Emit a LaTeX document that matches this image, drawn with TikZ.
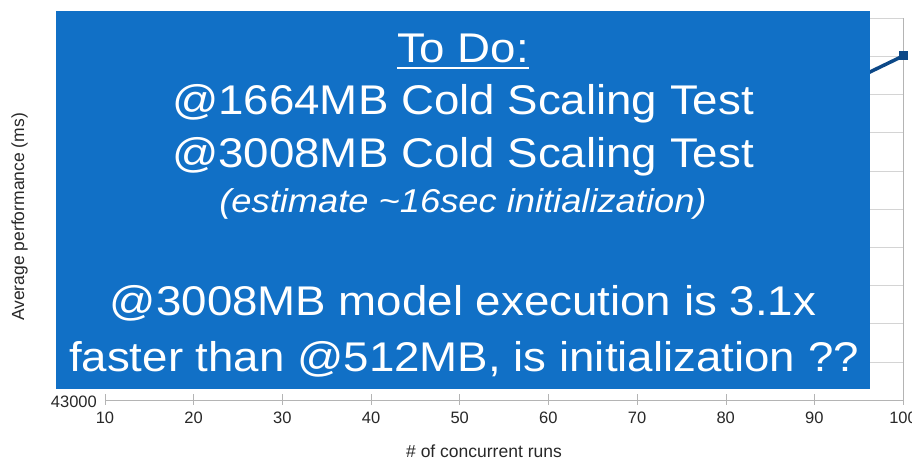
\documentclass[tikz,border=0pt]{standalone}
\usepackage{fontspec}
\setmainfont{Liberation Sans}
\newfontfamily\boxfont[FakeStretch=1.1]{Liberation Sans}
\usetikzlibrary{positioning}
\definecolor{boxblue}{RGB}{17,112,198}
\definecolor{lineblue}{RGB}{12,72,135}
\definecolor{gridgray}{RGB}{212,212,212}
\definecolor{axisgray}{RGB}{180,180,180}
\definecolor{labelgray}{RGB}{40,40,40}

\begin{document}
\begin{tikzpicture}[
    x=1pt, y=-1pt,
    ticklabel/.style={font=\fontsize{16.5}{16.5}\selectfont, text=labelgray,
                      inner sep=0pt, anchor=base},
    axistitle/.style={font=\fontsize{17.5}{17.5}\selectfont, text=labelgray,
                      inner sep=0pt, anchor=base},
    marker/.style={fill=lineblue, minimum size=9pt, inner sep=0pt},
    headline/.style={text=white, inner sep=0pt, anchor=base,
                     font=\boxfont\fontsize{41.5}{41.5}\selectfont},
    noteline/.style={headline, font=\boxfont\itshape\fontsize{33}{33}\selectfont}
  ]
  \useasboundingbox (0,0) rectangle (912,462);

  % Grid and axes
  \foreach \k in {1,...,10} {
    \draw[gridgray] (105,{400-38.2*\k}) -- (903,{400-38.2*\k});
  }
  \draw[axisgray] (903,18) -- (903,400);
  \draw[axisgray] (105,400) -- (903,400);
  \foreach \k in {1,...,10} {
    \pgfmathtruncatemacro\val{10*\k}
    \draw[axisgray] ({105+88.67*(\k-1)},394) -- ({105+88.67*(\k-1)},405);
    \node[ticklabel] (xt\k) at ({105+88.67*(\k-1)},423) {\val};
  }
  \node[ticklabel, anchor=base east] (yt0) at (97,407) {43000};
  \node[axistitle] (xlabel) at (484,457) {\# of concurrent runs};
  \node[axistitle, rotate=90] (ylabel) at (24,217) {Average performance (ms)};

  % Data series
  \node[marker] (p90) at (814,99) {};
  \node[marker] (p100) at (903,56) {};
  \draw[lineblue, line width=3.5pt] (p90.center) -- (p100.center);

  % Overlay box
  \fill[boxblue] (56,11) rectangle (870,389);
  \node[headline] (todo) at (463,63) {To Do:};
  \draw[white, line width=2.5pt] ([yshift=-5pt]todo.base west) -- ([yshift=-5pt]todo.base east);
  \node[headline] (cold1) at (463,115) {@1664MB Cold Scaling Test};
  \node[headline] (cold2) at (463,168) {@3008MB Cold Scaling Test};
  \node[noteline] (estimate) at (463,213) {(estimate \textasciitilde16sec initialization)};
  \node[headline] (exec1) at (463,315) {@3008MB model execution is 3.1x};
  \node[headline] (exec2) at (464,371) {faster than @512MB, is initialization ??};
\end{tikzpicture}
\end{document}
